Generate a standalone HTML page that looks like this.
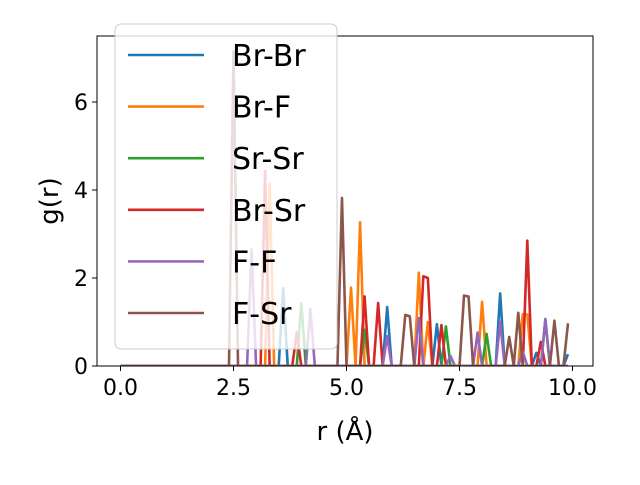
<!DOCTYPE html>
<html><head><meta charset="utf-8"><style>body{margin:0;background:#fff}svg{font-family:"DejaVu Sans","Liberation Sans",sans-serif}</style></head>
<body>
<svg id="chart" width="640" height="480"></svg>
<script>
const seriesNames = ["Br-Br","Br-F","Sr-Sr","Br-Sr","F-F","F-Sr"];
const colors = ["#1f77b4","#ff7f0e","#2ca02c","#d62728","#9467bd","#8c564b"];
const xTicks = [0,2.5,5,7.5,10];
const xTickLabels = ["0.0","2.5","5.0","7.5","10.0"];
const yTicks = [0,2,4,6];
const rValues = Array.from({length:100},(_, i)=>+(i*0.1).toFixed(1));
// sparse peaks: index -> g(r)
const brBr = {36:1.77,59:1.34,70:0.95,84:1.65,92:0.3,99:0.27};
const brF  = {33:4.15,51:1.78,53:3.27,66:2.12,68:1.0,80:1.46,89:1.18,90:1.17};
const srSr = {40:1.43,54:0.82,72:0.9,81:0.73,94:1.05};
const brSr = {32:4.43,39:0.77,54:1.58,57:1.43,67:2.04,68:2.0,71:0.93,90:2.85,93:0.55};
const fF   = {29:2.65,42:1.3,59:0.68,66:1.09,73:0.23,79:0.76,84:1.0,89:0.33,94:1.07};
const fSr  = {25:7.15,49:3.82,63:1.16,64:1.13,76:1.6,77:1.58,86:0.66,88:1.21,96:1.03,99:0.97};
const peakSets = [brBr,brF,srSr,brSr,fF,fSr];

const NS="http://www.w3.org/2000/svg", svg=document.getElementById('chart');
const L=97,R=593,T=36,B=366;
const xs=v=>120.5+v*45.2, ys=v=>366-v*44;
function mk(tag,attrs,parent){const e=document.createElementNS(NS,tag);for(const k in attrs)e.setAttribute(k,attrs[k]);(parent||svg).appendChild(e);return e;}
const clip=mk('clipPath',{id:'pc'});mk('rect',{x:L,y:T,width:R-L,height:B-T},clip);
const g=mk('g',{'clip-path':'url(#pc)'});
peakSets.forEach((pk,si)=>{
  const pts=rValues.map((r,i)=>xs(r).toFixed(2)+','+ys(pk[i]||0).toFixed(2)).join(' ');
  const p=mk('polyline',{points:pts,fill:'none',stroke:colors[si],'stroke-width':2.6,'stroke-linejoin':'round'},g);
  
  
});
const frame=mk('rect',{x:L,y:T,width:R-L,height:B-T,fill:'none',stroke:'#000','stroke-width':1});

xTicks.forEach((v,i)=>{
  mk('line',{x1:xs(v),x2:xs(v),y1:B,y2:B+5,stroke:'#000'});
  const t=mk('text',{x:xs(v),y:B+29,'text-anchor':'middle','font-size':22});t.textContent=xTickLabels[i];
  
});
yTicks.forEach(v=>{
  mk('line',{x1:L-5,x2:L,y1:ys(v),y2:ys(v),stroke:'#000'});
  const t=mk('text',{x:L-9,y:ys(v)+8,'text-anchor':'end','font-size':22});t.textContent=v;
  
});
const xl=mk('text',{x:345,y:440,'text-anchor':'middle','font-size':26});xl.textContent='r (Å)';

const yl=mk('text',{x:0,y:0,'text-anchor':'middle','font-size':26,transform:'translate(58,201) rotate(-90)'});yl.textContent='g(r)';

const lg=mk('g',{});

mk('rect',{x:115,y:24,width:222,height:325,rx:6,fill:'#fff','fill-opacity':0.8,stroke:'#ccc'},lg);
seriesNames.forEach((n,i)=>{
  const y=55+i*51.6;
  const e=mk('g',{},lg);
  
  mk('line',{x1:128,x2:204,y1:y,y2:y,stroke:colors[i],'stroke-width':2.6},e);
  const t=mk('text',{x:232,y:y+11,'font-size':30},e);t.textContent=n;
});
</script>
</body></html>
